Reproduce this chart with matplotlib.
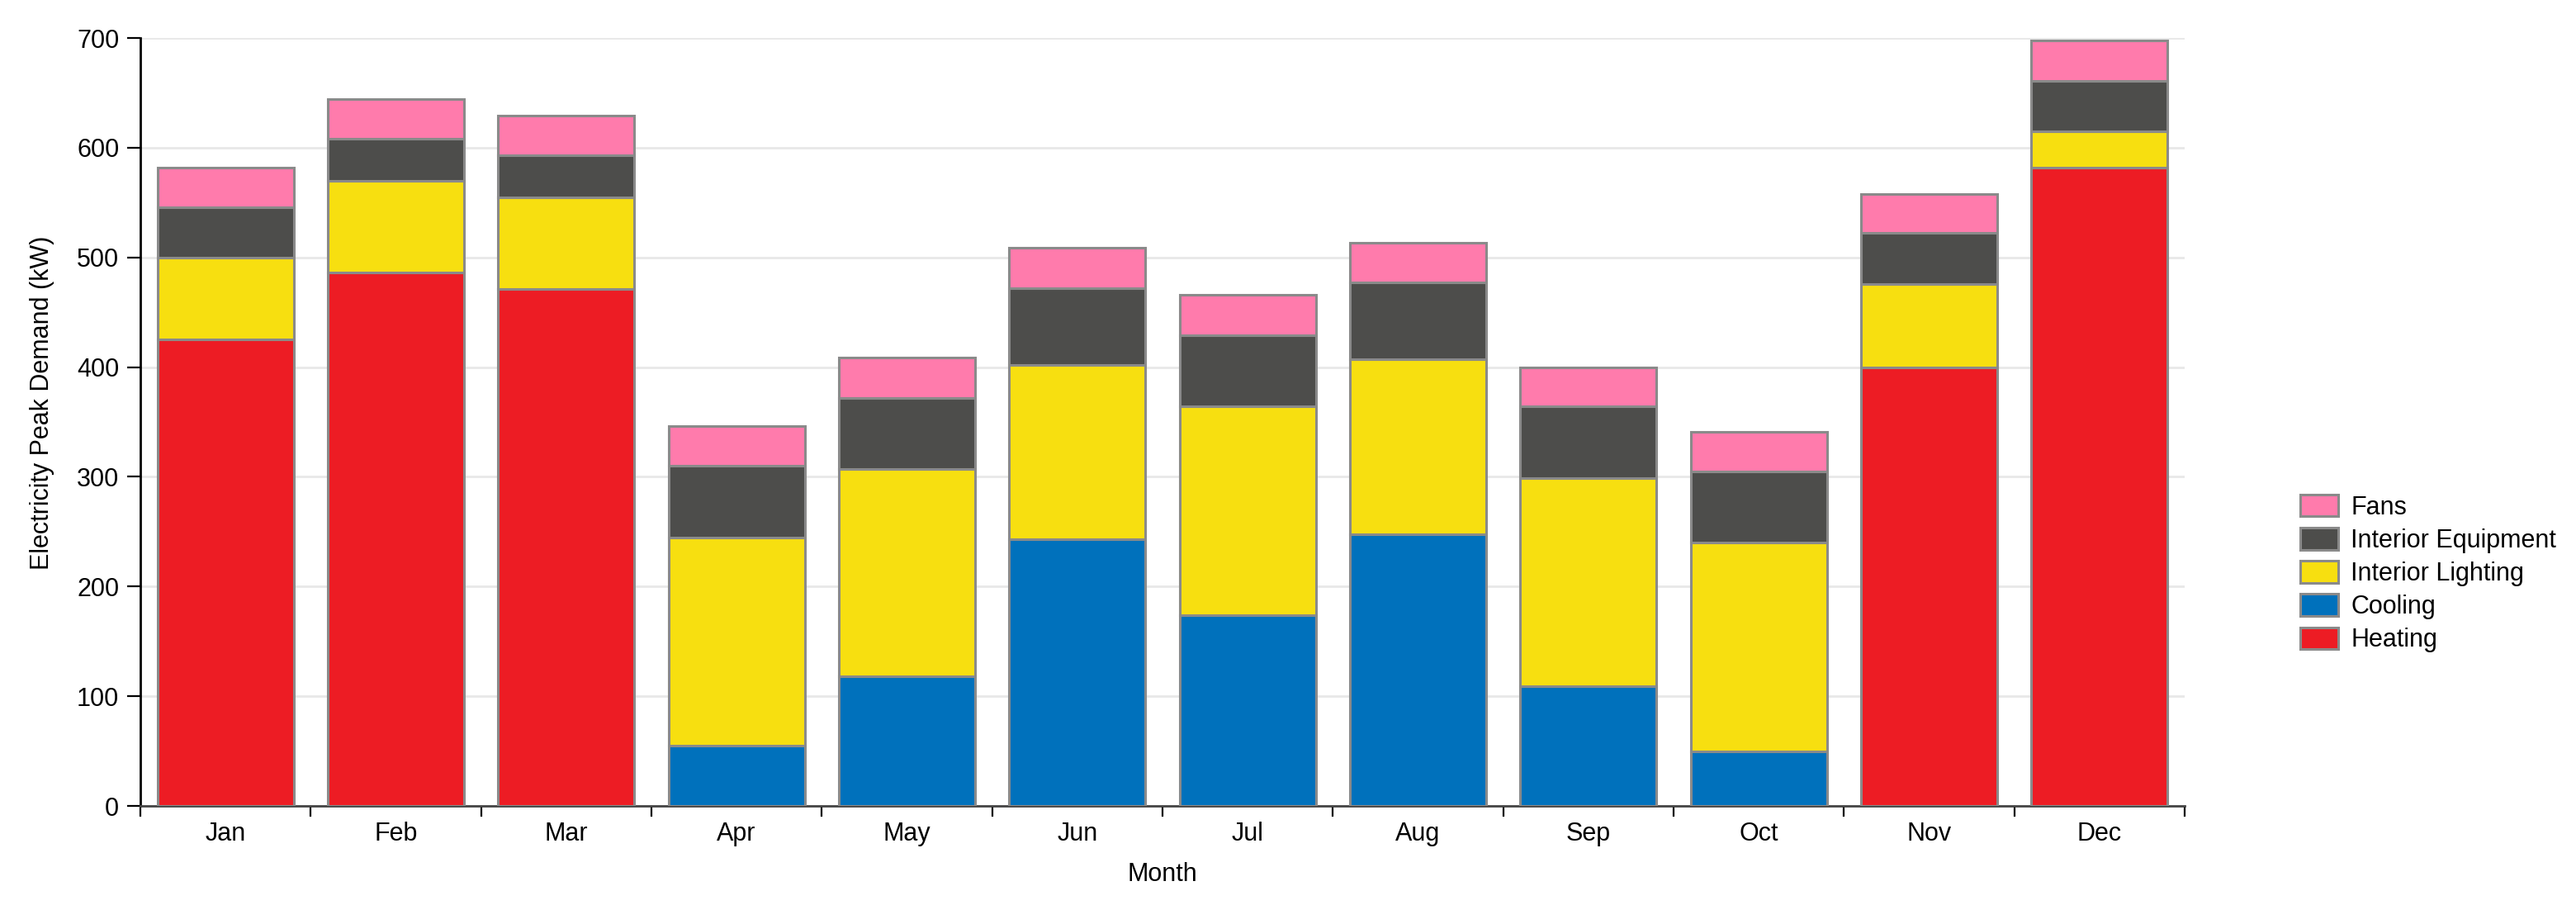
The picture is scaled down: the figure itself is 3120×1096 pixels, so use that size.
import numpy as np
import matplotlib
matplotlib.use("Agg")
import matplotlib.pyplot as plt
from matplotlib.patches import Patch

plt.rcParams["font.family"] = ["Liberation Sans", "DejaVu Sans"]

months = ["Jan", "Feb", "Mar", "Apr", "May", "Jun",
          "Jul", "Aug", "Sep", "Oct", "Nov", "Dec"]

# peak demand by end use, kW (stack order bottom -> top)
heating = [425, 486, 471, 0, 0, 0, 0, 0, 0, 0, 400, 582]
cooling = [0, 0, 0, 55, 118, 243, 174, 248, 109, 50, 0, 0]
interior_lighting = [75, 84, 84, 190, 189, 159, 190, 159, 190, 190, 76, 33]
interior_equipment = [46, 38, 38, 65, 65, 70, 65, 70, 65, 65, 46, 46]
fans = [36, 36, 36, 36, 37, 37, 37, 36, 36, 36, 36, 37]

series = [
    ("Heating", heating, "#ed1c24"),
    ("Cooling", cooling, "#0071bc"),
    ("Interior Lighting", interior_lighting, "#f7df10"),
    ("Interior Equipment", interior_equipment, "#4d4d4b"),
    ("Fans", fans, "#ff7bac"),
]

FS = 22
W, H = 3120, 1096
fig = plt.figure(figsize=(W / 100, H / 100), dpi=100)
ax = fig.add_axes([170 / W, 1 - 976 / H, (2646 - 170) / W, (976 - 46) / H])

x = np.arange(len(months))
bottom = np.zeros(len(months))
for name, vals, color in series:
    vals = np.array(vals, dtype=float)
    ax.bar(x, vals, width=0.8, bottom=bottom, color=color,
           edgecolor="#8a8a8a", linewidth=2.2, zorder=3)
    bottom += vals

ax.set_xlim(-0.5, len(months) - 0.5)
ax.set_ylim(0, 700)

# y axis
ax.set_yticks(np.arange(0, 701, 100))
ax.yaxis.grid(True, color="#e8e8e8", linewidth=2.0, zorder=0)
ax.set_axisbelow(True)
ax.tick_params(axis="y", length=11.5, width=1.6, color="black",
               labelsize=FS, pad=7)

# x axis: ticks at band edges, labels at band centres
ax.set_xticks(np.arange(-0.5, len(months), 1.0))
ax.set_xticklabels([])
ax.set_xticks(x, minor=True)
ax.set_xticklabels(months, minor=True)
ax.tick_params(axis="x", which="major", length=9.5, width=1.6, color="black")
ax.tick_params(axis="x", which="minor", length=0, labelsize=FS, pad=14)

for side in ["top", "right"]:
    ax.spines[side].set_visible(False)
ax.spines["left"].set_linewidth(2.0)
ax.spines["left"].set_color("black")
ax.spines["left"].set_bounds(0, 700)
ax.spines["bottom"].set_linewidth(2.0)
ax.spines["bottom"].set_color("#444444")

ax.set_ylabel("Electricity Peak Demand (kW)", fontsize=FS)
ax.yaxis.set_label_coords((66 - 170) / 2476, 0.525)
ax.set_xlabel("Month", fontsize=FS)
ax.xaxis.set_label_coords(0.5, (976 - 1044) / 930)

handles = [Patch(facecolor=c, edgecolor="#8a8a8a", linewidth=2.2, label=n)
           for n, _, c in reversed(series)]
fig.legend(handles=handles, loc="upper left",
           bbox_to_anchor=(2786 / W, 1 - 599 / H), frameon=False,
           fontsize=FS, handlelength=1.5, handleheight=0.95,
           labelspacing=0.31, handletextpad=0.5, borderaxespad=0,
           borderpad=0)

fig.savefig("out.png", dpi=100, facecolor="white")
